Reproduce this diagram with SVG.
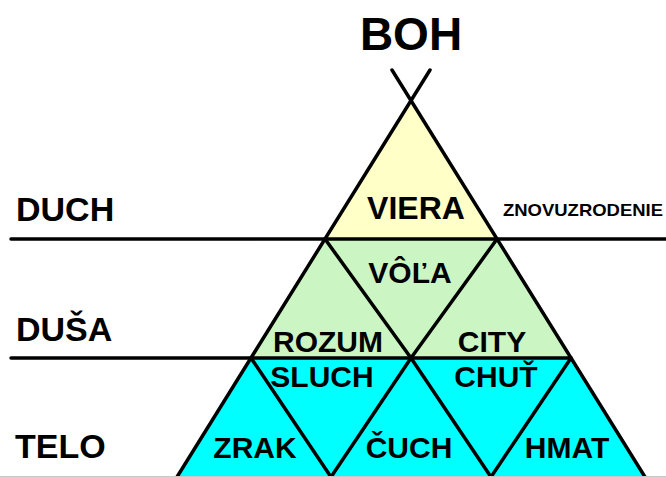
<svg xmlns="http://www.w3.org/2000/svg" width="666" height="477" viewBox="0 0 666 477">
<style>
text{font-family:"Liberation Sans",Arial,sans-serif;font-weight:bold;fill:#000}
.big{font-size:46px;text-anchor:middle}
.lvl{font-size:34px}
.lab{font-size:30px;text-anchor:middle}
.y{fill:#FFFFC8}
.g{fill:#CCF5C4}
.c{fill:#00FFFF}
.ln{stroke:#000;stroke-width:3.5;fill:none;stroke-linecap:round;stroke-linejoin:round}
</style>
<rect width="666" height="477" fill="#fff"/>
<g id="boh"><text class="big" x="411" y="50">BOH</text></g>
<g id="level-duch"><text class="lvl" x="16" y="221">DUCH</text></g>
<g id="level-dusa"><text class="lvl" x="16" y="341">DUŠA</text></g>
<g id="level-telo"><text class="lvl" x="15" y="458">TELO</text></g>
<g id="znovuzrodenie"><text x="503" y="216" style="font-size:17px" textLength="160" lengthAdjust="spacingAndGlyphs">ZNOVUZRODENIE</text></g>
<g id="viera"><polygon class="y" points="411,101 325,239 497,239"/><text class="lab" x="416" y="219" style="font-size:32px">VIERA</text></g>
<g id="rozum"><polygon class="g" points="325,239 251,358 411,358"/></g>
<g id="vola"><polygon class="g" points="325,239 497,239 411,358"/></g>
<g id="city"><polygon class="g" points="497,239 411,358 571,358"/></g>
<g id="zrak"><polygon class="c" points="251,358 177,477 331,477"/></g>
<g id="sluch"><polygon class="c" points="251,358 411,358 331,477"/></g>
<g id="cuch"><polygon class="c" points="411,358 331,477 491,477"/></g>
<g id="chut"><polygon class="c" points="411,358 571,358 491,477"/></g>
<g id="hmat"><polygon class="c" points="571,358 491,477 645,477"/></g>
<g id="connectors">
<line class="ln" x1="430" y1="70" x2="177" y2="477"/>
<line class="ln" x1="392" y1="70" x2="645" y2="477"/>
<line class="ln" x1="11" y1="239" x2="666" y2="239"/>
<line class="ln" x1="11" y1="358" x2="571" y2="358"/>
<polyline class="ln" points="325,239 411,358 491,477"/>
<polyline class="ln" points="497,239 411,358 331,477"/>
<line class="ln" x1="251" y1="358" x2="331" y2="477"/>
<line class="ln" x1="571" y1="358" x2="491" y2="477"/>
<line x1="0" y1="476.5" x2="666" y2="476.5" stroke="#c8c8c8" stroke-width="1"/>
</g>
<g id="labels">
<text class="lab" x="410" y="283">VÔĽA</text>
<text class="lab" x="328" y="352">ROZUM</text>
<text class="lab" x="492" y="352">CITY</text>
<text class="lab" x="322" y="387">SLUCH</text>
<text class="lab" x="496" y="387">CHUŤ</text>
<text class="lab" x="255" y="458">ZRAK</text>
<text class="lab" x="409" y="458">ČUCH</text>
<text class="lab" x="567" y="458">HMAT</text>
</g>
</svg>
